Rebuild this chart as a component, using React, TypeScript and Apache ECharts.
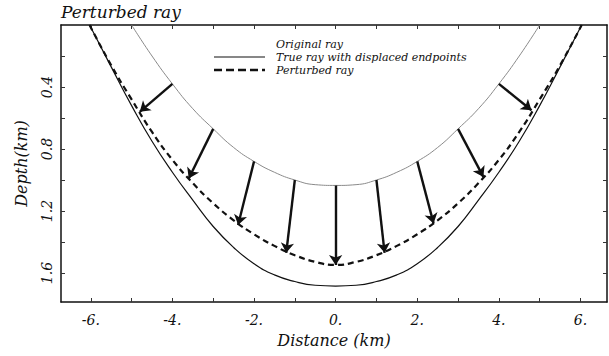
import React, { useEffect, useRef } from "react";
import * as echarts from "echarts";

// Original ray (thin grey)
const originalX = [-5, -4.5, -4, -3.5, -3, -2.5, -2, -1.5, -1, -0.5, 0, 0.5, 1, 1.5, 2, 2.5, 3, 3.5, 4, 4.5, 5];
const originalDepth = [0, 0.2, 0.38, 0.54, 0.67, 0.79, 0.88, 0.95, 1.0, 1.03, 1.035, 1.03, 1.0, 0.95, 0.88, 0.79, 0.67, 0.54, 0.38, 0.2, 0];

// True ray with displaced endpoints (thin solid)
const trueX = [-6.03, -5.5, -5, -4.5, -4, -3.5, -3, -2.5, -2, -1.5, -1, -0.5, 0, 0.5, 1, 1.5, 2, 2.5, 3, 3.5, 4, 4.5, 5, 5.5, 6.03];
const trueDepth = [0, 0.27, 0.52, 0.75, 0.95, 1.13, 1.3, 1.435, 1.54, 1.612, 1.655, 1.679, 1.684, 1.679, 1.655, 1.612, 1.54, 1.435, 1.3, 1.13, 0.95, 0.75, 0.52, 0.27, 0];

// Perturbed ray (thick dashed)
const pertX = [-6.03, -5.5, -5, -4.5, -4, -3.5, -3, -2.5, -2, -1.5, -1, -0.5, 0, 0.5, 1, 1.5, 2, 2.5, 3, 3.5, 4, 4.5, 5, 5.5, 6.03];
const pertDepth = [0, 0.26, 0.48, 0.69, 0.87, 1.02, 1.15, 1.26, 1.35, 1.425, 1.485, 1.528, 1.548, 1.528, 1.485, 1.425, 1.35, 1.26, 1.15, 1.02, 0.87, 0.69, 0.48, 0.26, 0];

// Displacement arrows
const arrowFromX = [-4, -3, -2, -1, 0, 1, 2, 3, 4];
const arrowFromDepth = [0.38, 0.67, 0.88, 1.0, 1.035, 1.0, 0.88, 0.67, 0.38];
const arrowToX = [-4.8, -3.6, -2.39, -1.21, 0, 1.2, 2.4, 3.62, 4.8];
const arrowToDepth = [0.56, 0.99, 1.29, 1.47, 1.548, 1.47, 1.28, 0.98, 0.55];

const xTickValues = [-6, -5, -4, -3, -2, -1, 0, 1, 2, 3, 4, 5, 6];
const xLabelValues = [-6, -4, -2, 0, 2, 4, 6];
const yTickValues = [0.2, 0.4, 0.6, 0.8, 1.0, 1.2, 1.4, 1.6];
const yLabelValues = [0.4, 0.8, 1.2, 1.6];

const legendLabels = ["Original ray", "True ray with displaced endpoints", "Perturbed ray"];

const FONT = "DejaVu Serif";

export default function App() {
  const ref = useRef<HTMLDivElement>(null);
  useEffect(() => {
    if (!ref.current) return;
    const chart = echarts.init(ref.current, null, { renderer: "svg" });
    const zip = (xs: number[], ys: number[]) => xs.map((x, i) => [x, ys[i]]);
    const xMin = -6.73;
    const xMax = 6.65;
    const yMin = 0;
    const yMax = 1.787;
    const axisLine = { show: true, onZero: false, lineStyle: { color: "#111", width: 1.5 } };
    const tickStyle = { color: "#333", width: 1 };
    chart.setOption({
      animation: false,
      backgroundColor: "#fff",
      title: {
        text: "Perturbed ray",
        left: 61,
        top: 3,
        padding: 0,
        textStyle: { fontFamily: FONT, fontStyle: "italic", fontWeight: "normal", fontSize: 17, color: "#111" },
      },
      grid: { left: 61, right: 2, top: 25, bottom: 54, outerBoundsMode: "none", containLabel: false },
      xAxis: [
        {
          type: "value",
          min: xMin,
          max: xMax,
          position: "bottom",
          axisLine,
          splitLine: { show: false },
          axisTick: { show: true, inside: true, length: 4, customValues: xTickValues, lineStyle: tickStyle },
          axisLabel: {
            customValues: xLabelValues,
            formatter: (v: number) => `${Math.round(v)}.`,
            fontFamily: FONT,
            fontStyle: "italic",
            fontSize: 14,
            color: "#111",
            margin: 11,
          },
          name: "Distance (km)",
          nameLocation: "middle",
          nameGap: 30,
          nameTextStyle: { fontFamily: FONT, fontStyle: "italic", fontSize: 16, color: "#111" },
        },
        {
          type: "value",
          min: xMin,
          max: xMax,
          position: "top",
          axisLine,
          splitLine: { show: false },
          axisTick: { show: true, inside: true, length: 4, customValues: xTickValues, lineStyle: tickStyle },
          axisLabel: { show: false },
        },
      ],
      yAxis: [
        {
          type: "value",
          min: yMin,
          max: yMax,
          inverse: true,
          position: "left",
          axisLine,
          splitLine: { show: false },
          axisTick: { show: true, inside: true, length: 4, customValues: yTickValues, lineStyle: tickStyle },
          axisLabel: {
            customValues: yLabelValues,
            formatter: (v: number) => v.toFixed(1),
            rotate: 90,
            fontFamily: FONT,
            fontStyle: "italic",
            fontSize: 14,
            color: "#111",
            margin: 7,
          },
          name: "Depth(km)",
          nameLocation: "middle",
          nameRotate: 90,
          nameGap: 32,
          nameTextStyle: { fontFamily: FONT, fontStyle: "italic", fontSize: 16, color: "#111" },
        },
        {
          type: "value",
          min: yMin,
          max: yMax,
          inverse: true,
          position: "right",
          axisLine,
          splitLine: { show: false },
          axisTick: { show: true, inside: true, length: 4, customValues: yTickValues, lineStyle: tickStyle },
          axisLabel: { show: false },
        },
      ],
      series: [
        {
          name: "Original ray",
          type: "line",
          data: zip(originalX, originalDepth),
          smooth: 0.5,
          showSymbol: false,
          lineStyle: { color: "#8a8a8a", width: 1 },
          z: 2,
        },
        {
          name: "True ray with displaced endpoints",
          type: "line",
          data: zip(trueX, trueDepth),
          smooth: 0.5,
          showSymbol: false,
          lineStyle: { color: "#111", width: 1.2 },
          z: 2,
        },
        {
          name: "Perturbed ray",
          type: "line",
          data: zip(pertX, pertDepth),
          smooth: 0.5,
          showSymbol: false,
          lineStyle: { color: "#111", width: 2.2, type: [6, 4] },
          z: 3,
        },
        {
          name: "Displacement",
          type: "lines",
          coordinateSystem: "cartesian2d",
          symbol: ["none", "arrow"],
          symbolSize: [0, 10],
          lineStyle: { color: "#111", width: 2.4, opacity: 1, curveness: 0 },
          data: arrowFromX.map((x, i) => ({
            coords: [
              [x, arrowFromDepth[i]],
              [arrowToX[i], arrowToDepth[i]],
            ],
          })),
          z: 4,
        },
      ],
      graphic: [
        {
          type: "line",
          shape: { x1: 214, y1: 57, x2: 265, y2: 57 },
          style: { stroke: "#111", lineWidth: 1.2 },
        },
        {
          type: "line",
          shape: { x1: 214, y1: 70, x2: 265, y2: 70 },
          style: { stroke: "#111", lineWidth: 2.6, lineDash: [8, 4] },
        },
        ...legendLabels.map((t, i) => ({
          type: "text",
          x: 276,
          y: 44 + i * 13,
          style: {
            text: t,
            fontFamily: FONT,
            fontStyle: "italic",
            fontSize: 11,
            lineHeight: 12,
            fill: "#111",
            verticalAlign: "middle",
            textAlign: "left",
          },
        })),
      ],
    });
    return () => chart.dispose();
  }, []);
  return (
    <div
      ref={ref}
      style={{ position: "absolute", left: 0, top: 0, width: 609, height: 356 }}
    />
  );
}
